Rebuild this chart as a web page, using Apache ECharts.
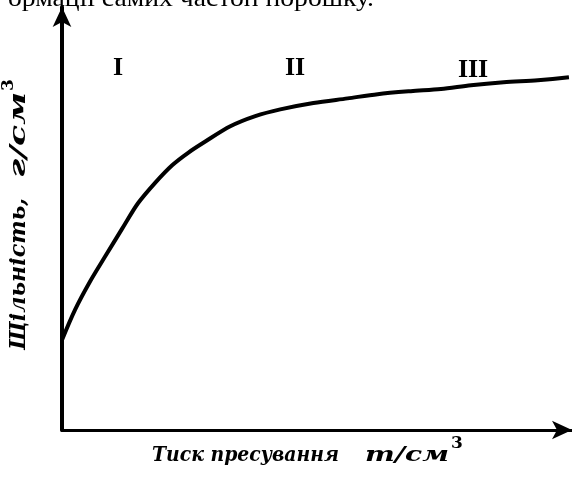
<!DOCTYPE html>
<html>
<head>
<meta charset="utf-8">
<script src="https://cdn.jsdelivr.net/npm/echarts@6/dist/echarts.min.js"></script>
<style>html,body{margin:0;padding:0;background:#fff;}#c{width:572px;height:483px;}</style>
</head>
<body>
<div id="c"></div>
<script>
// Pressure (relative units) and density (relative units)
const pressure = [0, 2.55, 5.5, 8.45, 11.8, 14.9, 18.3, 21.6, 24.8, 28.1, 33.0, 37.9, 42.8, 49.3, 56.0, 61.9, 68.4, 74.3, 80.2, 86.6, 93.3, 99.4];
const density  = [21.3, 28.4, 35.1, 41.0, 47.6, 53.6, 58.5, 62.6, 65.6, 68.2, 71.8, 74.2, 75.8, 77.3, 78.4, 79.4, 80.1, 80.6, 81.5, 82.2, 82.7, 83.4];
const stageLabels = ['I', 'II', 'III'];
const stagePos = [[11, 85.5], [45.7, 85.5], [80.6, 85]];
const xTitle = 'Тиск пресування';
const xUnit = 'т/см';
const yTitle = 'Щільність,';
const yUnit = 'г/см';
const supText = '3';
const topText = 'ормації самих частоп порошку.';

const ctx = document.createElement('canvas').getContext('2d');
function measure(txt, font) { ctx.font = font; return ctx.measureText(txt).width; }
const F_TITLE = 'italic bold 21px "DejaVu Serif"';
const F_Y = 'italic bold 22px "DejaVu Serif"';
const F_TOP = '26px "Liberation Serif"';
function fitScale(txt, font, target) { return target / measure(txt, font); }

const titleStyle = (size) => ({fontFamily: 'DejaVu Serif', fontStyle: 'italic', fontWeight: 'bold', fontSize: size, fill: '#000'});

const chart = echarts.init(document.getElementById('c'));
const gridL = 62, gridT = 7, gridW = 510, gridH = 423;
chart.setOption({
  animation: false,
  grid: {left: gridL, top: gridT, width: gridW, height: gridH, containLabel: false},
  xAxis: {
    type: 'value', min: 0, max: 100,
    axisLine: {lineStyle: {color: '#000', width: 3}, symbol: ['none', 'arrow'], symbolSize: [14, 20]},
    axisTick: {show: false}, axisLabel: {show: false}, splitLine: {show: false}
  },
  yAxis: {
    type: 'value', min: 0, max: 100,
    axisLine: {lineStyle: {color: '#000', width: 4}, symbol: ['none', 'arrow'], symbolSize: [14, 20]},
    axisTick: {show: false}, axisLabel: {show: false}, splitLine: {show: false}
  },
  series: [{
    type: 'line',
    data: pressure.map((p, i) => [p, density[i]]),
    smooth: 0.3,
    showSymbol: false,
    clip: false,
    lineStyle: {color: '#000', width: 4}
  }, {
    type: 'scatter',
    data: stagePos.map((p, i) => ({value: p, name: stageLabels[i]})),
    symbolSize: 0,
    itemStyle: {opacity: 1},
    label: {show: true, position: 'inside', formatter: d => d.name, opacity: 1,
      fontFamily: 'Liberation Serif', fontWeight: 'bold', fontSize: 26, color: '#000'}
  }],
  graphic: [
    {type: 'text', x: 8, y: 12, scaleX: fitScale(topText, F_TOP, 366), style: {text: topText, font: F_TOP, fill: '#000', verticalAlign: 'bottom'}},
    {type: 'text', x: 152, y: 456, scaleX: fitScale(xTitle, F_TITLE, 187), style: Object.assign(titleStyle(21), {text: xTitle, align: 'left', verticalAlign: 'middle'})},
    {type: 'text', x: 365, y: 456, scaleX: fitScale(xUnit, F_TITLE, 84), style: Object.assign(titleStyle(21), {text: xUnit, align: 'left', verticalAlign: 'middle'})},
    {type: 'text', x: 451, y: 444, style: {text: supText, fontFamily: 'DejaVu Serif', fontWeight: 'bold', fontSize: 17, fill: '#000', align: 'left', verticalAlign: 'middle'}},
    {type: 'text', x: 19, y: 350, rotation: Math.PI / 2, scaleX: fitScale(yTitle, F_Y, 152), style: Object.assign(titleStyle(22), {text: yTitle, align: 'left', verticalAlign: 'middle'})},
    {type: 'text', x: 19, y: 178, rotation: Math.PI / 2, scaleX: fitScale(yUnit, F_Y, 86), style: Object.assign(titleStyle(22), {text: yUnit, align: 'left', verticalAlign: 'middle'})},
    {type: 'text', x: 9, y: 91, rotation: Math.PI / 2, style: {text: supText, fontFamily: 'DejaVu Serif', fontWeight: 'bold', fontSize: 17, fill: '#000', align: 'left', verticalAlign: 'middle'}}
  ]
});
</script>
</body>
</html>
